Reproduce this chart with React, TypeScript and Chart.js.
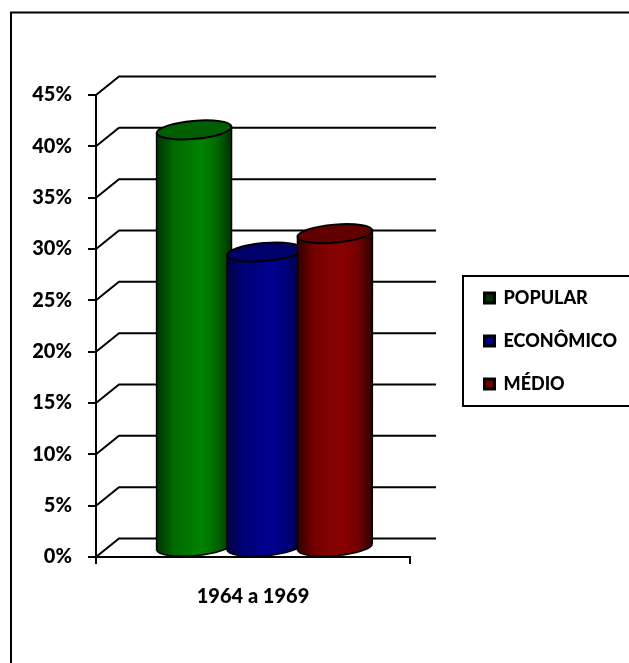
import React, { useEffect, useRef } from "react";
import { Chart, registerables } from "chart.js";

Chart.register(...registerables);

const periods = ["1964 a 1969"];
const seriesNames = ["POPULAR", "ECONÔMICO", "MÉDIO"];
const popular = [40.7];
const economico = [28.8];
const medio = [30.6];
const yTicks = [0, 5, 10, 15, 20, 25, 30, 35, 40, 45];

const markerColors = ["#003300", "#000080", "#6e0000"];
const shades = [
  { dark: "#003300", mid: "#006800", light: "#008400", top: "#005f00" },
  { dark: "#000040", mid: "#000078", light: "#000092", top: "#00006a" },
  { dark: "#300000", mid: "#760000", light: "#8a0000", top: "#620000" },
];

const FONT = "Lato, 'Open Sans', sans-serif";
const DEPTH_X = 23;
const DEPTH_Y = 18.5;
const BACK_RIGHT = 436;
const ELLIPSE_RY = 9;
const ELLIPSE_TILT = (-5 * Math.PI) / 180;

// White sheet with the outer frame, open on the clipped edges of the canvas.
const framePlugin = {
  id: "frame",
  beforeDraw(chart: any) {
    const { ctx, width, height } = chart;
    ctx.save();
    ctx.fillStyle = "#fff";
    ctx.fillRect(0, 0, width, height);
    ctx.strokeStyle = "#000";
    ctx.lineWidth = 2;
    ctx.strokeRect(11, 12.5, width, height);
    ctx.restore();
  },
};

// Receding gridlines: a diagonal off each axis tick, then a line along the back wall.
const wallPlugin = {
  id: "wall",
  beforeDatasetsDraw(chart: any) {
    const { ctx, scales } = chart;
    const left = scales.y.right;
    ctx.save();
    ctx.strokeStyle = "#000";
    ctx.lineWidth = 2;
    yTicks.forEach((t) => {
      const y = scales.y.getPixelForValue(t);
      ctx.beginPath();
      ctx.moveTo(left, y);
      ctx.lineTo(left + DEPTH_X, y - DEPTH_Y);
      ctx.lineTo(BACK_RIGHT, y - DEPTH_Y);
      ctx.stroke();
    });
    ctx.restore();
  },
};

// Each bar element is rendered as a tilted cylinder standing mid-depth in the floor.
const cylinderPlugin = {
  id: "cylinders",
  afterDatasetsDraw(chart: any) {
    const { ctx } = chart;
    chart.data.datasets.forEach((_: any, i: number) => {
      const bar = chart.getDatasetMeta(i).data[0];
      const shade = shades[i];
      const cx = bar.x + DEPTH_X / 2;
      const rx = bar.width / 2;
      const top = bar.y - DEPTH_Y / 2;
      const bottom = bar.base - DEPTH_Y / 2;
      const dy = rx * Math.sin(ELLIPSE_TILT);

      const g = ctx.createLinearGradient(cx - rx, 0, cx + rx, 0);
      g.addColorStop(0, shade.dark);
      g.addColorStop(0.22, shade.mid);
      g.addColorStop(0.6, shade.light);
      g.addColorStop(0.8, shade.mid);
      g.addColorStop(1, shade.dark);

      ctx.save();
      ctx.lineWidth = 1.5;
      ctx.strokeStyle = "#000";
      ctx.beginPath();
      ctx.moveTo(cx - rx, top - dy);
      ctx.lineTo(cx - rx, bottom - dy);
      ctx.ellipse(cx, bottom, rx, ELLIPSE_RY, ELLIPSE_TILT, Math.PI, 0, true);
      ctx.lineTo(cx + rx, top + dy);
      ctx.closePath();
      ctx.fillStyle = g;
      ctx.fill();
      ctx.stroke();

      ctx.beginPath();
      ctx.ellipse(cx, top, rx, ELLIPSE_RY, ELLIPSE_TILT, 0, Math.PI * 2);
      ctx.fillStyle = shade.top;
      ctx.fill();
      ctx.lineWidth = 2;
      ctx.stroke();
      ctx.restore();
    });
  },
};

// Moves the legend out beside the plot and boxes it.
const legendBoxPlugin = {
  id: "legendBox",
  afterLayout(chart: any) {
    const l = chart.legend;
    l.left = 459.5;
    l.right = 629;
    l.top = 264;
    l.bottom = 450;
    l.adjustHitBoxes();
  },
  beforeDatasetsDraw(chart: any) {
    const { ctx, width } = chart;
    ctx.save();
    ctx.strokeStyle = "#000";
    ctx.lineWidth = 2;
    ctx.strokeRect(463, 276, width, 130);
    ctx.restore();
  },
};

export default function App() {
  const ref = useRef<HTMLCanvasElement>(null);

  useEffect(() => {
    const names = seriesNames;
    const values = [popular, economico, medio];
    const chart = new Chart(ref.current!, {
      type: "bar",
      data: {
        labels: periods,
        datasets: names.map((label, i) => ({
          label,
          data: values[i],
          backgroundColor: "transparent",
          borderWidth: 0,
          categoryPercentage: 0.673,
          barPercentage: 1.064,
        })),
      },
      options: {
        responsive: false,
        animation: false,
        layout: { padding: { top: 95, right: 219, left: 0, bottom: 0 } },
        plugins: {
          tooltip: { enabled: false },
          legend: {
            position: "chartArea" as any,
            align: "start",
            labels: {
              boxWidth: 10,
              boxHeight: 10,
              padding: 25,
              color: "#000",
              font: { family: FONT, size: 18, weight: "900" },
              generateLabels: () =>
                names.map((text, i) => ({
                  text,
                  datasetIndex: i,
                  fillStyle: markerColors[i],
                  strokeStyle: "#000",
                  lineWidth: 3,
                  fontColor: "#000",
                })),
            },
          },
        },
        scales: {
          x: {
            afterFit: (s: any) => {
              s.height = 106;
            },
            border: { color: "#000", width: 2 },
            grid: { drawOnChartArea: false, color: "#000", lineWidth: 2, tickLength: 7 },
            ticks: {
              color: "#000",
              padding: 21,
              maxRotation: 0,
              font: { family: FONT, size: 20, weight: "900" },
            },
          },
          y: {
            min: 0,
            max: 45,
            afterFit: (s: any) => {
              s.width = 96;
            },
            afterBuildTicks: (s: any) => {
              s.ticks = yTicks.map((value) => ({ value }));
            },
            border: { color: "#000", width: 2 },
            grid: { drawOnChartArea: false, color: "#000", lineWidth: 2, tickLength: 8 },
            ticks: {
              color: "#000",
              padding: 16,
              callback: (v: any) => `${v}%`,
              font: { family: FONT, size: 20, weight: "900" },
            },
          },
        },
      },
      plugins: [framePlugin, wallPlugin, cylinderPlugin, legendBoxPlugin],
    });
    return () => chart.destroy();
  }, []);

  return (
    <div style={{ position: "absolute", left: 0, top: 0, width: 629, height: 663, overflow: "hidden" }}>
      <canvas ref={ref} width={629} height={663} style={{ display: "block" }} />
    </div>
  );
}
